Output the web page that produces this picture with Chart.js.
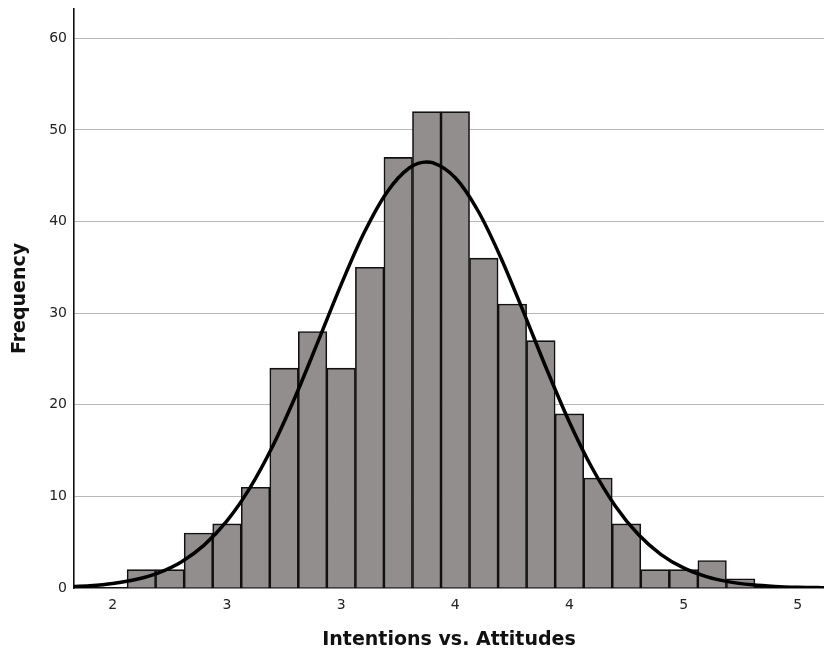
<!DOCTYPE html>
<html>
<head>
<meta charset="utf-8">
<script src="https://cdn.jsdelivr.net/npm/chart.js@4/dist/chart.umd.min.js"></script>
<style>
  html, body { margin: 0; padding: 0; background: #ffffff; }
  #wrap { width: 824px; height: 652px; position: relative; }
</style>
</head>
<body>
<div id="wrap"><canvas id="c" width="824" height="652"></canvas></div>
<script>
// Histogram bins (bin centers) and frequencies
const binCenters = [2.125, 2.25, 2.375, 2.5, 2.625, 2.75, 2.875, 3.0, 3.125, 3.25, 3.375,
                    3.5, 3.625, 3.75, 3.875, 4.0, 4.125, 4.25, 4.375, 4.5, 4.625, 4.75];
const frequencies = [2, 2, 6, 7, 11, 24, 28, 24, 35, 47, 52,
                     52, 36, 31, 27, 19, 12, 7, 2, 2, 3, 1];

// Normal curve, values
const curveX = [1.8, 1.9, 2.0, 2.1, 2.2, 2.3, 2.4, 2.5, 2.6, 2.7, 2.8, 2.9, 3.0, 3.1, 3.2, 3.3,
                3.375, 3.4, 3.5, 3.6, 3.7, 3.8, 3.9, 4.0, 4.1, 4.2, 4.3, 4.4, 4.5, 4.6, 4.7,
                4.8, 4.9, 5.0, 5.1, 5.2];
const curveY = [0.12, 0.24, 0.48, 0.92, 1.66, 2.85, 4.68, 7.32, 10.9, 15.47, 20.93, 26.97, 33.11,
                38.74, 43.18, 45.87, 46.5, 46.43, 44.78, 41.15, 36.03, 30.06, 23.9, 18.1, 13.07,
                8.99, 5.89, 3.68, 2.19, 1.24, 0.67, 0.35, 0.17, 0.08, 0.04, 0.02];

// Axis ticks
const xTickValues = [2.0, 2.5, 3.0, 3.5, 4.0, 4.5, 5.0];
const xTickLabels = ["2", "3", "3", "4", "4", "5", "5"];
const yTickValues = [0, 10, 20, 30, 40, 50, 60];
const yTickLabels = ["0", "10", "20", "30", "40", "50", "60"];

const barData = binCenters.map((x, i) => ({ x: x, y: frequencies[i] }));
const curveData = curveX.map((x, i) => ({ x: x, y: curveY[i] }));

const tickFont = { family: "DejaVu Sans", size: 14 };
const titleFont = { family: "DejaVu Sans", size: 19, weight: "bold" };

new Chart(document.getElementById('c'), {
  type: 'bar',
  data: {
    datasets: [
      {
        type: 'line',
        data: curveData,
        borderColor: '#000000',
        borderWidth: 3.5,
        pointRadius: 0,
        fill: false,
        cubicInterpolationMode: 'monotone',
        order: 0
      },
      {
        type: 'bar',
        data: barData,
        backgroundColor: '#928e8e',
        borderColor: '#111111',
        borderWidth: 1.6,
        barPercentage: 1.0,
        categoryPercentage: 1.0,
        order: 1
      }
    ]
  },
  options: {
    responsive: false,
    animation: false,
    devicePixelRatio: 1,
    layout: { padding: { top: 9, right: 0, bottom: 0, left: 0 } },
    plugins: {
      legend: { display: false },
      tooltip: { enabled: false }
    },
    scales: {
      x: {
        type: 'linear',
        min: 1.83,
        max: 5.115,
        offset: false,
        afterFit: (s) => { s.height = 64; s.paddingLeft = 0; s.paddingRight = 0; },
        afterBuildTicks: (s) => { s.ticks = xTickValues.map(v => ({ value: v })); },
        ticks: {
          font: tickFont,
          color: '#222222',
          padding: 9,
          maxRotation: 0,
          autoSkip: false,
          callback: (v) => { const i = xTickValues.indexOf(v); return i >= 0 ? xTickLabels[i] : ''; }
        },
        grid: { display: false, drawTicks: false },
        border: { display: true, color: '#111111', width: 1.6 },
        title: {
          display: true,
          text: 'Intentions vs. Attitudes',
          font: titleFont,
          color: '#111111',
          padding: { top: 0, bottom: 1 }
        }
      },
      y: {
        type: 'linear',
        min: 0,
        max: 63.2,
        afterFit: (s) => { s.width = 74; s.paddingTop = 0; s.paddingBottom = 0; },
        afterBuildTicks: (s) => { s.ticks = yTickValues.map(v => ({ value: v })); },
        ticks: {
          font: tickFont,
          color: '#222222',
          padding: 7,
          callback: (v) => { const i = yTickValues.indexOf(v); return i >= 0 ? yTickLabels[i] : ''; }
        },
        grid: {
          drawTicks: false,
          color: (ctx) => (ctx.tick && ctx.tick.value === 0) ? 'rgba(0,0,0,0)' : '#b8b8b8',
          lineWidth: 1
        },
        border: { display: true, color: '#111111', width: 1.6 },
        title: {
          display: true,
          text: 'Frequency',
          font: titleFont,
          color: '#111111',
          padding: { top: 9, bottom: 0 }
        }
      }
    }
  }
});
</script>
</body>
</html>
